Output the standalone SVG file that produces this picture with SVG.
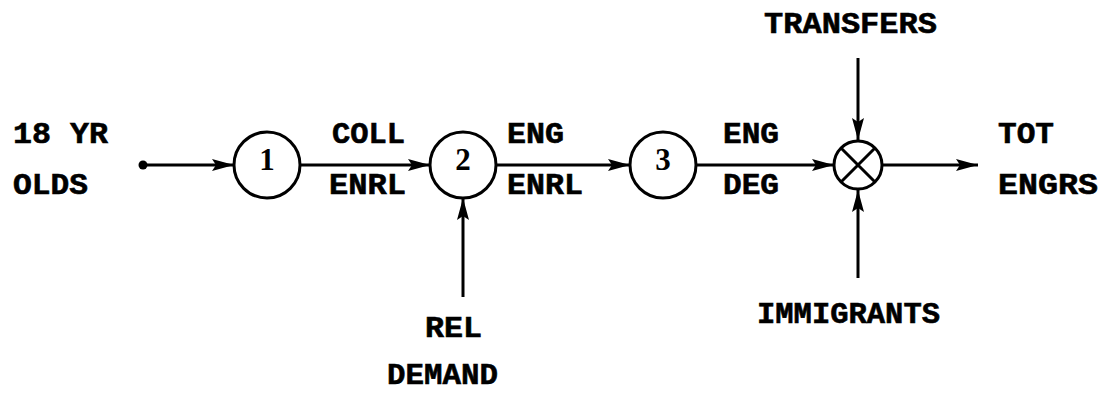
<svg xmlns="http://www.w3.org/2000/svg" width="1103" height="393" viewBox="0 0 1103 393">
  <style>
    .lbl { font-family: "Liberation Mono", "Courier New", monospace; font-weight: bold; font-size: 30px; fill: #000; stroke: #000; stroke-width: 0.6; }
    .num { font-family: "Liberation Serif", "Times New Roman", serif; font-weight: bold; font-size: 31px; fill: #000; text-anchor: middle; }
    .node { fill: #fff; stroke: #000; stroke-width: 3; }
    .wire { fill: none; stroke: #000; stroke-width: 3; marker-end: url(#head); }
  </style>
  <defs>
    <!-- long, slightly tapered solid head -->
    <marker id="head" viewBox="0 0 22 14" refX="22" refY="7" markerWidth="22" markerHeight="14" markerUnits="userSpaceOnUse" orient="auto">
      <path d="M0,1 L22,7 L0,13 L4,7 Z" fill="#000"/>
    </marker>
  </defs>
  <rect width="1103" height="393" fill="#fff"/>

  <!-- connectors -->
  <g id="connectors">
    <circle cx="143" cy="165" r="4.5" fill="#000"/>
    <line class="wire" x1="143" y1="165" x2="234" y2="165"/>
    <line class="wire" x1="300" y1="165" x2="430" y2="165"/>
    <line class="wire" x1="495" y1="165" x2="630" y2="165"/>
    <line class="wire" x1="696" y1="165" x2="834" y2="165"/>
    <line class="wire" x1="858" y1="58" x2="858" y2="140"/>
    <line class="wire" x1="858" y1="278" x2="858" y2="190"/>
    <line class="wire" x1="463" y1="297" x2="463" y2="198"/>
    <line class="wire" x1="882" y1="165" x2="978" y2="165"/>
  </g>

  <!-- process blocks -->
  <g id="n1">
    <circle class="node" cx="267" cy="165" r="33"/>
    <text class="num" x="267" y="170">1</text>
  </g>
  <g id="n2">
    <circle class="node" cx="463" cy="165" r="33"/>
    <text class="num" x="463" y="170">2</text>
  </g>
  <g id="n3">
    <circle class="node" cx="663" cy="165" r="33"/>
    <text class="num" x="663" y="170">3</text>
  </g>
  <g id="sum">
    <circle class="node" cx="858" cy="165" r="24"/>
    <path d="M841,148 L875,182 M875,148 L841,182" stroke="#000" stroke-width="3"/>
  </g>

  <!-- labels -->
  <g id="labels">
    <text class="lbl" x="13" y="143" textLength="95" lengthAdjust="spacingAndGlyphs">18 YR</text>
    <text class="lbl" x="13" y="194" textLength="75" lengthAdjust="spacingAndGlyphs">OLDS</text>
    <text class="lbl" x="332" y="143" textLength="73" lengthAdjust="spacingAndGlyphs">COLL</text>
    <text class="lbl" x="329" y="194" textLength="77" lengthAdjust="spacingAndGlyphs">ENRL</text>
    <text class="lbl" x="507" y="143" textLength="57" lengthAdjust="spacingAndGlyphs">ENG</text>
    <text class="lbl" x="507" y="194" textLength="76" lengthAdjust="spacingAndGlyphs">ENRL</text>
    <text class="lbl" x="723" y="143" textLength="56" lengthAdjust="spacingAndGlyphs">ENG</text>
    <text class="lbl" x="723" y="194" textLength="56" lengthAdjust="spacingAndGlyphs">DEG</text>
    <text class="lbl" x="998" y="143" textLength="56" lengthAdjust="spacingAndGlyphs">TOT</text>
    <text class="lbl" x="998" y="194" textLength="100" lengthAdjust="spacingAndGlyphs">ENGRS</text>
    <text class="lbl" x="764" y="33" textLength="173" lengthAdjust="spacingAndGlyphs">TRANSFERS</text>
    <text class="lbl" x="757" y="323" textLength="183" lengthAdjust="spacingAndGlyphs">IMMIGRANTS</text>
    <text class="lbl" x="425" y="337" textLength="57" lengthAdjust="spacingAndGlyphs">REL</text>
    <text class="lbl" x="387" y="384" textLength="111" lengthAdjust="spacingAndGlyphs">DEMAND</text>
  </g>
</svg>
